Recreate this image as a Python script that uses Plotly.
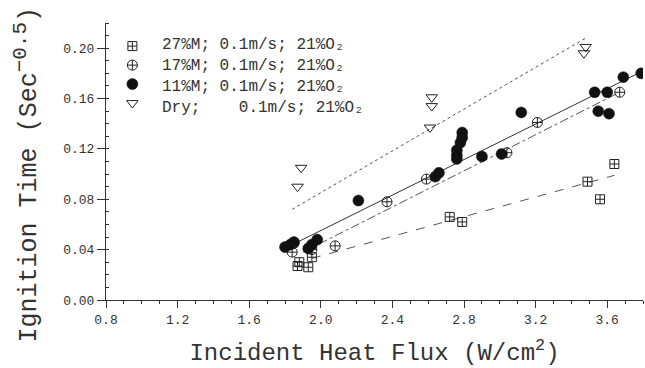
import plotly.graph_objects as go

# ---- data ----
dry_x = [1.87, 1.89, 2.61, 2.62, 2.62, 3.47, 3.48]
dry_y = [0.090, 0.105, 0.137, 0.154, 0.161, 0.196, 0.201]

m27_x = [1.87, 1.88, 1.93, 1.95, 2.72, 2.79, 3.49, 3.56, 3.64]
m27_y = [0.027, 0.030, 0.026, 0.034, 0.066, 0.062, 0.094, 0.080, 0.108]

m17_x = [1.84, 1.85, 1.95, 2.08, 2.37, 2.59, 3.04, 3.21, 3.67]
m17_y = [0.038, 0.045, 0.040, 0.043, 0.078, 0.096, 0.117, 0.141, 0.165]

m11_x = [1.80, 1.83, 1.85, 1.93, 1.95, 1.98, 2.21, 2.64, 2.66, 2.76, 2.76, 2.76,
         2.78, 2.79, 2.79, 2.90, 3.01, 3.12, 3.53, 3.55, 3.60, 3.61, 3.69, 3.79]
m11_y = [0.042, 0.044, 0.046, 0.041, 0.044, 0.048, 0.079, 0.098, 0.101, 0.112, 0.115, 0.119,
         0.125, 0.129, 0.133, 0.114, 0.116, 0.149, 0.165, 0.150, 0.165, 0.148, 0.177, 0.180]

# fitted lines (end points)
fit27_x = [1.95, 3.64]
fit27_y = [0.033, 0.099]
fit17_x = [1.90, 3.67]
fit17_y = [0.038, 0.165]
fit11_x = [1.87, 3.80]
fit11_y = [0.046, 0.182]
fitdry_x = [1.84, 3.48]
fitdry_y = [0.072, 0.208]

legend_labels = ["27%M; 0.1m/s; 21%O\u2082",
                 "17%M; 0.1m/s; 21%O\u2082",
                 "11%M; 0.1m/s; 21%O\u2082",
                 "Dry;\u00a0\u00a0\u00a0\u00a00.1m/s; 21%O\u2082"]

FONT = "Liberation Mono, Courier New, monospace"
INK = "#333333"
LINE = "#555555"

fig = go.Figure()

# fit lines
fig.add_trace(go.Scatter(x=fit27_x, y=fit27_y, mode="lines", showlegend=False,
                         line=dict(color=LINE, width=1, dash="dash")))
fig.add_trace(go.Scatter(x=fit17_x, y=fit17_y, mode="lines", showlegend=False,
                         line=dict(color=LINE, width=1, dash="dashdot")))
fig.add_trace(go.Scatter(x=fit11_x, y=fit11_y, mode="lines", showlegend=False,
                         line=dict(color="#333333", width=1, dash="solid")))
fig.add_trace(go.Scatter(x=fitdry_x, y=fitdry_y, mode="lines", showlegend=False,
                         line=dict(color=LINE, width=1, dash="dot")))

# markers (legend shows symbols only; labels are annotations for exact row spacing)
fig.add_trace(go.Scatter(x=m27_x, y=m27_y, mode="markers", name=" ",
                         marker=dict(symbol="square-cross-open", size=9, color="#222",
                                     line=dict(width=1, color="#222"))))
fig.add_trace(go.Scatter(x=m17_x, y=m17_y, mode="markers", name="\u00a0",
                         marker=dict(symbol="circle-cross-open", size=10, color="#222",
                                     line=dict(width=1, color="#222"))))
fig.add_trace(go.Scatter(x=m11_x, y=m11_y, mode="markers", name="\u00a0\u00a0",
                         marker=dict(symbol="circle", size=11, color="#111",
                                     line=dict(width=0.5, color="#111"))))
fig.add_trace(go.Scatter(x=dry_x, y=dry_y, mode="markers", name="\u00a0\u00a0\u00a0",
                         marker=dict(symbol="triangle-down-open", size=10, color="#222",
                                     line=dict(width=1, color="#222"))))

xr = [0.8, 3.8]
yr = [0.0, 0.22]

ytitle = "Ignition Time (Sec<sup><span style=\"font-size:21px\">\u22120.5</span></sup>)"

annotations = []
row_y = [0.9206, 0.8448, 0.7690, 0.6931]
for lab, ry in zip(legend_labels, row_y):
    annotations.append(dict(text=lab, xref="paper", yref="paper", x=0.1006, y=ry,
                            xanchor="left", yanchor="middle", showarrow=False,
                            font=dict(family=FONT, size=16, color=INK)))
annotations.append(dict(text=ytitle, xref="paper", yref="paper", x=-0.147, y=0.45,
                        xanchor="center", yanchor="middle", textangle=-90, showarrow=False,
                        font=dict(family=FONT, size=25, color=INK)))

fig.update_layout(
    width=645, height=368,
    margin=dict(l=106, r=2, t=23, b=68),
    paper_bgcolor="white", plot_bgcolor="white",
    font=dict(family=FONT, color=INK, size=13),
    showlegend=True,
    legend=dict(x=0.0063, y=0.969, xanchor="left", yanchor="top",
                bgcolor="rgba(0,0,0,0)", font=dict(family=FONT, size=12, color=INK),
                tracegroupgap=0, itemwidth=36),
    annotations=annotations,
    xaxis=dict(range=xr, tick0=0.8, dtick=0.4, tickformat=".1f",
               showgrid=False, zeroline=False, showline=True, linecolor=INK, linewidth=1,
               ticks="outside", ticklen=7, tickcolor=INK,
               minor=dict(dtick=0.1, tick0=0.8, ticks="outside", ticklen=3, tickcolor=INK),
               tickfont=dict(family=FONT, size=13, color=INK),
               title=dict(text="Incident Heat Flux (W/cm<sup>2</sup>)",
                          font=dict(family=FONT, size=24, color=INK), standoff=16)),
    yaxis=dict(range=yr, tick0=0, dtick=0.04, tickformat=".2f",
               showgrid=False, zeroline=False, showline=True, linecolor=INK, linewidth=1,
               ticks="outside", ticklen=8, tickcolor=INK,
               minor=dict(dtick=0.01, tick0=0, ticks="inside", ticklen=3, tickcolor=INK),
               tickfont=dict(family=FONT, size=13, color=INK)),
    xaxis2=dict(range=xr, overlaying="x", side="top", anchor="y", tick0=0.8, dtick=0.4,
                showgrid=False, zeroline=False, showline=True, linecolor=INK, linewidth=1,
                ticks="inside", ticklen=6, tickcolor=INK, showticklabels=False,
                minor=dict(dtick=0.1, tick0=0.8, ticks="inside", ticklen=3, tickcolor=INK)),
    yaxis2=dict(range=yr, overlaying="y", side="right", anchor="x", tick0=0, dtick=0.04,
                showgrid=False, zeroline=False, showline=True, linecolor=INK, linewidth=1,
                ticks="inside", ticklen=6, tickcolor=INK, showticklabels=False,
                minor=dict(dtick=0.01, tick0=0, ticks="inside", ticklen=3, tickcolor=INK)),
)

fig.write_html("out.html")
